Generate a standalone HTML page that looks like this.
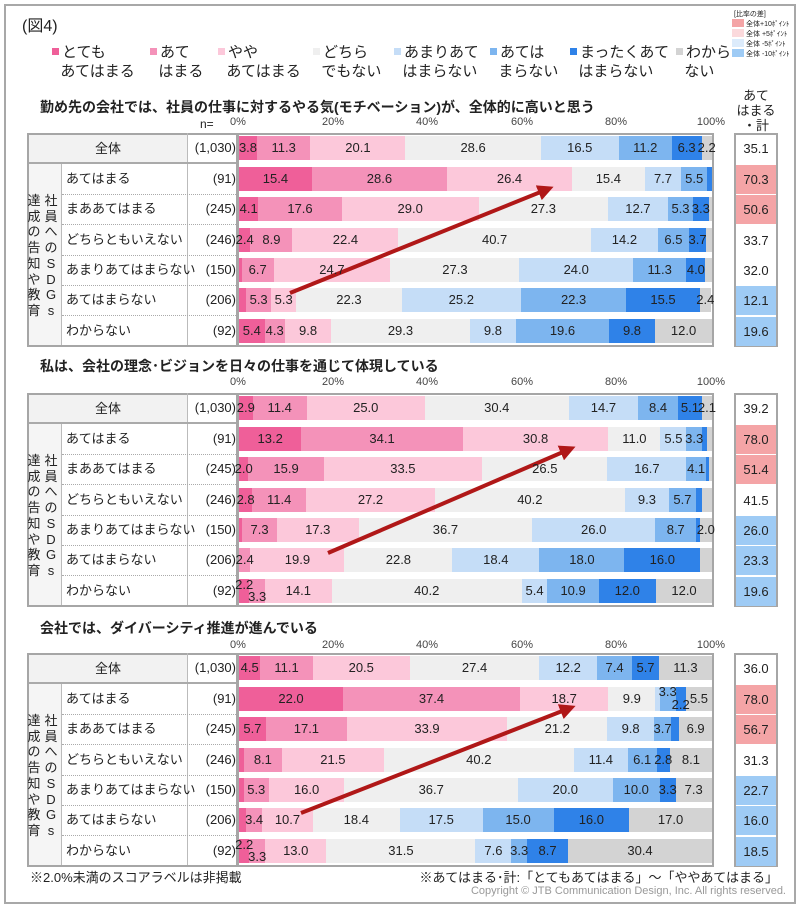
<!DOCTYPE html>
<html><head><meta charset="utf-8"><style>
*{margin:0;padding:0;box-sizing:border-box}
body{width:800px;height:911px;background:#fff;position:relative;overflow:hidden;font-family:"Liberation Sans","Noto Sans CJK JP",sans-serif;color:#222}
.frame{position:absolute;left:4px;top:4px;width:792px;height:900px;border:2px solid #a8a8a8}
.abs{position:absolute;white-space:nowrap}
.lg{position:absolute;top:43px;font-size:15px;line-height:19px}
.lg b{display:inline-block;width:7px;height:7px;margin-right:3px;vertical-align:2px}
.mini{position:absolute;left:732px;font-size:7px;line-height:9px}
.mini b{display:inline-block;width:12px;height:8px;vertical-align:-1px;margin-right:2px}
.p{position:absolute;left:0;width:800px;height:214px}
.title{position:absolute;left:40px;top:-36px;font-size:14px;font-weight:bold;white-space:nowrap}
.tick{position:absolute;top:-17px;font-size:11px;color:#444;width:40px;text-align:center}
.tbl{position:absolute;left:27px;top:0;width:211px;height:214px;border:2px solid #a6a6a6;background:#fff}
.bfr{position:absolute;left:237px;top:0;width:477px;height:214px;border:2px solid #a6a6a6;background:#fff}
.tfr{position:absolute;left:734px;top:0;width:44px;height:214px;border:2px solid #a6a6a6}
.row{position:absolute;left:0;width:800px;height:30px}
.r0{top:0}.r1{top:31px}.r2{top:61px}.r3{top:92px}.r4{top:122px}.r5{top:152px}.r6{top:183px}
.g0{position:absolute;left:29px;top:2px;width:158px;height:27px;background:#f2f2f2;text-align:center;font-size:13px;line-height:27px}
.lab{position:absolute;left:66px;top:0;font-size:13px;line-height:30px;white-space:nowrap}
.n{position:absolute;left:187px;width:49px;text-align:right;font-size:13px;line-height:30px}
.bar{position:absolute;left:239px;top:3px;width:473px;height:24px;display:flex}
.bar i{position:relative;font-style:normal;flex:none;height:24px}
.bar s{position:absolute;left:50%;top:0;transform:translateX(-50%);text-decoration:none;z-index:2;font-size:13px;line-height:24px;white-space:nowrap;color:#222}
.c1{background:#ef5f99}.c2{background:#f492b9}.c3{background:#fcc8da}.c4{background:#efefef}.c5{background:#c5ddf7}.c6{background:#7db5ef}.c7{background:#2f82e8}.c8{background:#d3d3d3}
.tot{position:absolute;left:736px;top:1px;width:40px;height:29px;text-align:center;font-size:13px;line-height:29px}
.red{background:#f4a4a6}.blu{background:#9ecbf5}
.sep{position:absolute;left:62px;width:174px;height:0;border-top:1px dotted #aaa}
.vcol{position:absolute;left:29px;top:31px;width:33px;height:181px;background:#f5f5f5;border-right:1px solid #bbb}
.ncol{position:absolute;left:187px;top:0;width:1px;height:212px;background:#bbb}
.vt{position:absolute;font-size:13px;line-height:15.7px;text-align:center;width:16px}
.dbl{position:absolute;left:29px;top:29px;width:207px;height:2px;border-top:1px solid #aaa;border-bottom:1px solid #aaa}
</style></head><body>
<div class="frame"></div>
<div class="abs" style="left:22px;top:12px;font-size:16px">(図4)</div>

<div class="lg" style="left:52px"><b style="background:#ef5f99"></b>とても<br>&nbsp;&nbsp;あてはまる</div>
<div class="lg" style="left:150px"><b style="background:#f492b9"></b>あて<br>&nbsp;&nbsp;はまる</div>
<div class="lg" style="left:218px"><b style="background:#fcc8da"></b>やや<br>&nbsp;&nbsp;あてはまる</div>
<div class="lg" style="left:313px"><b style="background:#efefef"></b>どちら<br>&nbsp;&nbsp;でもない</div>
<div class="lg" style="left:394px"><b style="background:#c5ddf7"></b>あまりあて<br>&nbsp;&nbsp;はまらない</div>
<div class="lg" style="left:490px"><b style="background:#7db5ef"></b>あては<br>&nbsp;&nbsp;まらない</div>
<div class="lg" style="left:570px"><b style="background:#2f82e8"></b>まったくあて<br>&nbsp;&nbsp;はまらない</div>
<div class="lg" style="left:676px"><b style="background:#d3d3d3"></b>わから<br>&nbsp;&nbsp;ない</div>

<div class="mini" style="top:10px">&nbsp;[比率の差]</div>
<div class="mini" style="top:19px"><b style="background:#f4a4a6"></b>全体+10ﾎﾟｲﾝﾄ</div>
<div class="mini" style="top:29px"><b style="background:#fbd9dc"></b>全体 +5ﾎﾟｲﾝﾄ</div>
<div class="mini" style="top:39px"><b style="background:#dcebfb"></b>全体 -5ﾎﾟｲﾝﾄ</div>
<div class="mini" style="top:49px"><b style="background:#9ecbf5"></b>全体 -10ﾎﾟｲﾝﾄ</div>

<div class="abs" style="left:735px;top:88px;width:42px;text-align:center;font-size:13px;line-height:15px">あて<br>はまる<br>・計</div>

<!-- PANEL 1 -->
<div class="p" style="top:133px">
<div class="title">勤め先の会社では、社員の仕事に対するやる気(モチベーション)が、全体的に高いと思う</div>
<div class="abs" style="left:200px;top:-16px;font-size:12px">n=</div>
<div class="tick" style="left:218px">0%</div><div class="tick" style="left:313px">20%</div><div class="tick" style="left:407px">40%</div><div class="tick" style="left:502px">60%</div><div class="tick" style="left:596px">80%</div><div class="tick" style="left:691px">100%</div>
<div class="tbl"></div><div class="bfr"></div><div class="tfr"></div>
<div class="vcol"></div><div class="ncol"></div><div class="dbl"></div>
<div class="sep" style="top:61px"></div><div class="sep" style="top:91px"></div><div class="sep" style="top:122px"></div><div class="sep" style="top:152px"></div><div class="sep" style="top:182px"></div>
<div class="vt" style="left:26px;top:60px">達<br>成<br>の<br>告<br>知<br>や<br>教<br>育</div>
<div class="vt" style="left:43px;top:60px">社<br>員<br>へ<br>の<br>S<br>D<br>G<br>s</div>
<div class="row r0"><div class="g0">全体</div><span class="n">(1,030)</span><div class="bar"><i class="c1" style="width:3.8%"><s>3.8</s></i><i class="c2" style="width:11.3%"><s>11.3</s></i><i class="c3" style="width:20.1%"><s>20.1</s></i><i class="c4" style="width:28.6%"><s>28.6</s></i><i class="c5" style="width:16.5%"><s>16.5</s></i><i class="c6" style="width:11.2%"><s>11.2</s></i><i class="c7" style="width:6.3%"><s>6.3</s></i><i class="c8" style="width:2.2%"><s>2.2</s></i></div><span class="tot">35.1</span></div>
<div class="row r1"><span class="lab">あてはまる</span><span class="n">(91)</span><div class="bar"><i class="c1" style="width:15.4%"><s>15.4</s></i><i class="c2" style="width:28.6%"><s>28.6</s></i><i class="c3" style="width:26.4%"><s>26.4</s></i><i class="c4" style="width:15.4%"><s>15.4</s></i><i class="c5" style="width:7.7%"><s>7.7</s></i><i class="c6" style="width:5.5%"><s>5.5</s></i><i class="c7" style="width:1.0%"></i></div><span class="tot red">70.3</span></div>
<div class="row r2"><span class="lab">まああてはまる</span><span class="n">(245)</span><div class="bar"><i class="c1" style="width:4.1%"><s>4.1</s></i><i class="c2" style="width:17.6%"><s>17.6</s></i><i class="c3" style="width:29.0%"><s>29.0</s></i><i class="c4" style="width:27.3%"><s>27.3</s></i><i class="c5" style="width:12.7%"><s>12.7</s></i><i class="c6" style="width:5.3%"><s>5.3</s></i><i class="c7" style="width:3.3%"><s>3.3</s></i><i class="c8" style="width:0.7%"></i></div><span class="tot red">50.6</span></div>
<div class="row r3"><span class="lab">どちらともいえない</span><span class="n">(246)</span><div class="bar"><i class="c1" style="width:2.4%"><s>2.4</s></i><i class="c2" style="width:8.9%"><s>8.9</s></i><i class="c3" style="width:22.4%"><s>22.4</s></i><i class="c4" style="width:40.7%"><s>40.7</s></i><i class="c5" style="width:14.2%"><s>14.2</s></i><i class="c6" style="width:6.5%"><s>6.5</s></i><i class="c7" style="width:3.7%"><s>3.7</s></i><i class="c8" style="width:1.2%"></i></div><span class="tot">33.7</span></div>
<div class="row r4"><span class="lab">あまりあてはまらない</span><span class="n">(150)</span><div class="bar"><i class="c1" style="width:0.6%"></i><i class="c2" style="width:6.7%"><s>6.7</s></i><i class="c3" style="width:24.7%"><s>24.7</s></i><i class="c4" style="width:27.3%"><s>27.3</s></i><i class="c5" style="width:24.0%"><s>24.0</s></i><i class="c6" style="width:11.3%"><s>11.3</s></i><i class="c7" style="width:4.0%"><s>4.0</s></i><i class="c8" style="width:1.4%"></i></div><span class="tot">32.0</span></div>
<div class="row r5"><span class="lab">あてはまらない</span><span class="n">(206)</span><div class="bar"><i class="c1" style="width:1.5%"></i><i class="c2" style="width:5.3%"><s>5.3</s></i><i class="c3" style="width:5.3%"><s>5.3</s></i><i class="c4" style="width:22.3%"><s>22.3</s></i><i class="c5" style="width:25.2%"><s>25.2</s></i><i class="c6" style="width:22.3%"><s>22.3</s></i><i class="c7" style="width:15.5%"><s>15.5</s></i><i class="c8" style="width:2.4%"><s>2.4</s></i></div><span class="tot blu">12.1</span></div>
<div class="row r6"><span class="lab">わからない</span><span class="n">(92)</span><div class="bar"><i class="c1" style="width:5.4%"><s>5.4</s></i><i class="c2" style="width:4.3%"><s>4.3</s></i><i class="c3" style="width:9.8%"><s>9.8</s></i><i class="c4" style="width:29.3%"><s>29.3</s></i><i class="c5" style="width:9.8%"><s>9.8</s></i><i class="c6" style="width:19.6%"><s>19.6</s></i><i class="c7" style="width:9.8%"><s>9.8</s></i><i class="c8" style="width:12.0%"><s>12.0</s></i></div><span class="tot blu">19.6</span></div>
</div>

<!-- PANEL 2 -->
<div class="p" style="top:393px">
<div class="title" style="top:-37px">私は、会社の理念･ビジョンを日々の仕事を通じて体現している</div>
<div class="tick" style="left:218px">0%</div><div class="tick" style="left:313px">20%</div><div class="tick" style="left:407px">40%</div><div class="tick" style="left:502px">60%</div><div class="tick" style="left:596px">80%</div><div class="tick" style="left:691px">100%</div>
<div class="tbl"></div><div class="bfr"></div><div class="tfr"></div>
<div class="vcol"></div><div class="ncol"></div><div class="dbl"></div>
<div class="sep" style="top:61px"></div><div class="sep" style="top:91px"></div><div class="sep" style="top:122px"></div><div class="sep" style="top:152px"></div><div class="sep" style="top:182px"></div>
<div class="vt" style="left:26px;top:60px">達<br>成<br>の<br>告<br>知<br>や<br>教<br>育</div>
<div class="vt" style="left:43px;top:60px">社<br>員<br>へ<br>の<br>S<br>D<br>G<br>s</div>
<div class="row r0"><div class="g0">全体</div><span class="n">(1,030)</span><div class="bar"><i class="c1" style="width:2.9%"><s>2.9</s></i><i class="c2" style="width:11.4%"><s>11.4</s></i><i class="c3" style="width:25.0%"><s>25.0</s></i><i class="c4" style="width:30.4%"><s>30.4</s></i><i class="c5" style="width:14.7%"><s>14.7</s></i><i class="c6" style="width:8.4%"><s>8.4</s></i><i class="c7" style="width:5.1%"><s>5.1</s></i><i class="c8" style="width:2.1%"><s>2.1</s></i></div><span class="tot">39.2</span></div>
<div class="row r1"><span class="lab">あてはまる</span><span class="n">(91)</span><div class="bar"><i class="c1" style="width:13.2%"><s>13.2</s></i><i class="c2" style="width:34.1%"><s>34.1</s></i><i class="c3" style="width:30.8%"><s>30.8</s></i><i class="c4" style="width:11.0%"><s>11.0</s></i><i class="c5" style="width:5.5%"><s>5.5</s></i><i class="c6" style="width:3.3%"><s>3.3</s></i><i class="c7" style="width:1.0%"></i><i class="c8" style="width:1.1%"></i></div><span class="tot red">78.0</span></div>
<div class="row r2"><span class="lab">まああてはまる</span><span class="n">(245)</span><div class="bar"><i class="c1" style="width:2.0%"><s>2.0</s></i><i class="c2" style="width:15.9%"><s>15.9</s></i><i class="c3" style="width:33.5%"><s>33.5</s></i><i class="c4" style="width:26.5%"><s>26.5</s></i><i class="c5" style="width:16.7%"><s>16.7</s></i><i class="c6" style="width:4.1%"><s>4.1</s></i><i class="c7" style="width:0.7%"></i><i class="c8" style="width:0.6%"></i></div><span class="tot red">51.4</span></div>
<div class="row r3"><span class="lab">どちらともいえない</span><span class="n">(246)</span><div class="bar"><i class="c1" style="width:2.8%"><s>2.8</s></i><i class="c2" style="width:11.4%"><s>11.4</s></i><i class="c3" style="width:27.2%"><s>27.2</s></i><i class="c4" style="width:40.2%"><s>40.2</s></i><i class="c5" style="width:9.3%"><s>9.3</s></i><i class="c6" style="width:5.7%"><s>5.7</s></i><i class="c7" style="width:1.2%"></i><i class="c8" style="width:2.2%"></i></div><span class="tot">41.5</span></div>
<div class="row r4"><span class="lab">あまりあてはまらない</span><span class="n">(150)</span><div class="bar"><i class="c1" style="width:0.7%"></i><i class="c2" style="width:7.3%"><s>7.3</s></i><i class="c3" style="width:17.3%"><s>17.3</s></i><i class="c4" style="width:36.7%"><s>36.7</s></i><i class="c5" style="width:26.0%"><s>26.0</s></i><i class="c6" style="width:8.7%"><s>8.7</s></i><i class="c7" style="width:0.7%"></i><i class="c8" style="width:2.6%"><s>2.0</s></i></div><span class="tot blu">26.0</span></div>
<div class="row r5"><span class="lab">あてはまらない</span><span class="n">(206)</span><div class="bar"><i class="c2" style="width:2.4%"><s>2.4</s></i><i class="c3" style="width:19.9%"><s>19.9</s></i><i class="c4" style="width:22.8%"><s>22.8</s></i><i class="c5" style="width:18.4%"><s>18.4</s></i><i class="c6" style="width:18.0%"><s>18.0</s></i><i class="c7" style="width:16.0%"><s>16.0</s></i><i class="c8" style="width:2.5%"></i></div><span class="tot blu">23.3</span></div>
<div class="row r6"><span class="lab">わからない</span><span class="n">(92)</span><div class="bar"><i class="c1" style="width:2.2%"><s style="top:-6px">2.2</s></i><i class="c2" style="width:3.3%"><s style="top:6px">3.3</s></i><i class="c3" style="width:14.1%"><s>14.1</s></i><i class="c4" style="width:40.2%"><s>40.2</s></i><i class="c5" style="width:5.4%"><s>5.4</s></i><i class="c6" style="width:10.9%"><s>10.9</s></i><i class="c7" style="width:12.0%"><s>12.0</s></i><i class="c8" style="width:12.0%"><s>12.0</s></i></div><span class="tot blu">19.6</span></div>
</div>

<!-- PANEL 3 -->
<div class="p" style="top:653px">
<div class="title" style="top:-35px">会社では、ダイバーシティ推進が進んでいる</div>
<div class="tick" style="left:218px;top:-14px">0%</div><div class="tick" style="left:313px;top:-14px">20%</div><div class="tick" style="left:407px;top:-14px">40%</div><div class="tick" style="left:502px;top:-14px">60%</div><div class="tick" style="left:596px;top:-14px">80%</div><div class="tick" style="left:691px;top:-14px">100%</div>
<div class="tbl"></div><div class="bfr"></div><div class="tfr"></div>
<div class="vcol"></div><div class="ncol"></div><div class="dbl"></div>
<div class="sep" style="top:61px"></div><div class="sep" style="top:91px"></div><div class="sep" style="top:122px"></div><div class="sep" style="top:152px"></div><div class="sep" style="top:182px"></div>
<div class="vt" style="left:26px;top:60px">達<br>成<br>の<br>告<br>知<br>や<br>教<br>育</div>
<div class="vt" style="left:43px;top:60px">社<br>員<br>へ<br>の<br>S<br>D<br>G<br>s</div>
<div class="row r0"><div class="g0">全体</div><span class="n">(1,030)</span><div class="bar"><i class="c1" style="width:4.5%"><s>4.5</s></i><i class="c2" style="width:11.1%"><s>11.1</s></i><i class="c3" style="width:20.5%"><s>20.5</s></i><i class="c4" style="width:27.4%"><s>27.4</s></i><i class="c5" style="width:12.2%"><s>12.2</s></i><i class="c6" style="width:7.4%"><s>7.4</s></i><i class="c7" style="width:5.7%"><s>5.7</s></i><i class="c8" style="width:11.2%"><s>11.3</s></i></div><span class="tot">36.0</span></div>
<div class="row r1"><span class="lab">あてはまる</span><span class="n">(91)</span><div class="bar"><i class="c1" style="width:22.0%"><s>22.0</s></i><i class="c2" style="width:37.4%"><s>37.4</s></i><i class="c3" style="width:18.7%"><s>18.7</s></i><i class="c4" style="width:9.9%"><s>9.9</s></i><i class="c5" style="width:1.0%"></i><i class="c6" style="width:3.3%"><s style="top:-7px">3.3</s></i><i class="c7" style="width:2.2%"><s style="top:6px">2.2</s></i><i class="c8" style="width:5.5%"><s>5.5</s></i></div><span class="tot red">78.0</span></div>
<div class="row r2"><span class="lab">まああてはまる</span><span class="n">(245)</span><div class="bar"><i class="c1" style="width:5.7%"><s>5.7</s></i><i class="c2" style="width:17.1%"><s>17.1</s></i><i class="c3" style="width:33.9%"><s>33.9</s></i><i class="c4" style="width:21.2%"><s>21.2</s></i><i class="c5" style="width:9.8%"><s>9.8</s></i><i class="c6" style="width:3.7%"><s>3.7</s></i><i class="c7" style="width:1.7%"></i><i class="c8" style="width:6.9%"><s>6.9</s></i></div><span class="tot red">56.7</span></div>
<div class="row r3"><span class="lab">どちらともいえない</span><span class="n">(246)</span><div class="bar"><i class="c1" style="width:1.0%"></i><i class="c2" style="width:8.1%"><s>8.1</s></i><i class="c3" style="width:21.5%"><s>21.5</s></i><i class="c4" style="width:40.2%"><s>40.2</s></i><i class="c5" style="width:11.4%"><s>11.4</s></i><i class="c6" style="width:6.1%"><s>6.1</s></i><i class="c7" style="width:2.8%"><s>2.8</s></i><i class="c8" style="width:8.9%"><s>8.1</s></i></div><span class="tot">31.3</span></div>
<div class="row r4"><span class="lab">あまりあてはまらない</span><span class="n">(150)</span><div class="bar"><i class="c1" style="width:1.0%"></i><i class="c2" style="width:5.3%"><s>5.3</s></i><i class="c3" style="width:16.0%"><s>16.0</s></i><i class="c4" style="width:36.7%"><s>36.7</s></i><i class="c5" style="width:20.0%"><s>20.0</s></i><i class="c6" style="width:10.0%"><s>10.0</s></i><i class="c7" style="width:3.3%"><s>3.3</s></i><i class="c8" style="width:7.7%"><s>7.3</s></i></div><span class="tot blu">22.7</span></div>
<div class="row r5"><span class="lab">あてはまらない</span><span class="n">(206)</span><div class="bar"><i class="c1" style="width:1.5%"></i><i class="c2" style="width:3.4%"><s>3.4</s></i><i class="c3" style="width:10.7%"><s>10.7</s></i><i class="c4" style="width:18.4%"><s>18.4</s></i><i class="c5" style="width:17.5%"><s>17.5</s></i><i class="c6" style="width:15.0%"><s>15.0</s></i><i class="c7" style="width:16.0%"><s>16.0</s></i><i class="c8" style="width:17.5%"><s>17.0</s></i></div><span class="tot blu">16.0</span></div>
<div class="row r6"><span class="lab">わからない</span><span class="n">(92)</span><div class="bar"><i class="c1" style="width:2.2%"><s style="top:-6px">2.2</s></i><i class="c2" style="width:3.3%"><s style="top:6px">3.3</s></i><i class="c3" style="width:13.0%"><s>13.0</s></i><i class="c4" style="width:31.5%"><s>31.5</s></i><i class="c5" style="width:7.6%"><s>7.6</s></i><i class="c6" style="width:3.3%"><s>3.3</s></i><i class="c7" style="width:8.7%"><s>8.7</s></i><i class="c8" style="width:30.4%"><s>30.4</s></i></div><span class="tot blu">18.5</span></div>
</div>

<svg style="position:absolute;left:0;top:0" width="800" height="911">
<defs><marker id="ah" markerWidth="4" markerHeight="4" refX="2.5" refY="2" orient="auto" markerUnits="strokeWidth"><path d="M0,0 L4,2 L0,4 z" fill="#b01818"/></marker></defs>
<line x1="290" y1="293" x2="548" y2="189" stroke="#b01818" stroke-width="4" marker-end="url(#ah)"/>
<line x1="328" y1="553" x2="570" y2="449" stroke="#b01818" stroke-width="4" marker-end="url(#ah)"/>
<line x1="301" y1="813" x2="570" y2="708" stroke="#b01818" stroke-width="4" marker-end="url(#ah)"/>
</svg>

<div class="abs" style="left:30px;top:867px;font-size:13px">※2.0%未満のスコアラベルは非掲載</div>
<div class="abs" style="right:22px;top:867px;font-size:13px">※あてはまる･計:「とてもあてはまる」～「ややあてはまる」</div>
<div class="abs" style="right:14px;top:885px;font-size:11px;color:#999">Copyright © JTB Communication Design, Inc. All rights reserved.</div>
</body></html>
